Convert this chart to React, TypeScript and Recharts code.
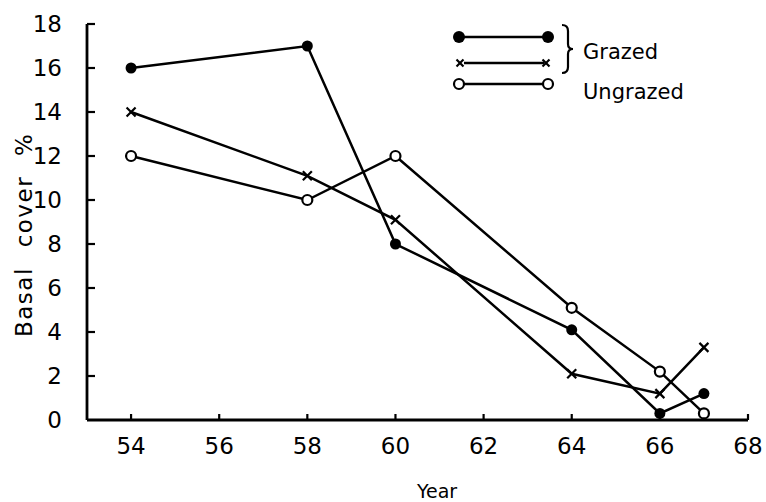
import React from 'react';
import { LineChart, Line, XAxis, YAxis } from 'recharts';

const years = [54, 58, 60, 64, 66, 67];
const grazedSolid = [16, 17, 8, 4.1, 0.3, 1.2];
const grazedCross = [14, 11.1, 9.1, 2.1, 1.2, 3.3];
const ungrazed = [12, 10, 12, 5.1, 2.2, 0.3];

const xTicks = [54, 56, 58, 60, 62, 64, 66, 68];
const yTicks = [0, 2, 4, 6, 8, 10, 12, 14, 16, 18];

const seriesNames = ['Grazed', 'Ungrazed'];

const data = years.map((year, i) => ({
  year,
  solid: grazedSolid[i],
  cross: grazedCross[i],
  open: ungrazed[i],
}));

const FONT = '"DejaVu Sans", sans-serif';
const W = 766;
const H = 502;

// Recharts hands its own r to dots, so sizes are taken from "size" instead
const SolidDot = (props: any) => {
  const { cx, cy, size = 5.5 } = props;
  if (cx == null || cy == null) return null;
  return <circle cx={cx} cy={cy} r={size} fill="#000" />;
};

const OpenDot = (props: any) => {
  const { cx, cy, size = 5 } = props;
  if (cx == null || cy == null) return null;
  return <circle cx={cx} cy={cy} r={size} fill="#fff" stroke="#000" strokeWidth={2.2} />;
};

const CrossDot = (props: any) => {
  const { cx, cy, size = 4.5 } = props;
  if (cx == null || cy == null) return null;
  return (
    <g stroke="#000" strokeWidth={2.2}>
      <line x1={cx - size} y1={cy - size} x2={cx + size} y2={cy + size} />
      <line x1={cx - size} y1={cy + size} x2={cx + size} y2={cy - size} />
    </g>
  );
};

const XTick = (props: any) => {
  const { x, y, payload } = props;
  return (
    <g>
      <line x1={x} y1={y} x2={x} y2={y - 6} stroke="#000" strokeWidth={2.2} />
      <text x={x} y={y + 26} textAnchor="middle" dominantBaseline="central" fontSize={23} fontFamily={FONT} fill="#000">
        {payload.value}
      </text>
    </g>
  );
};

const YTick = (props: any) => {
  const { x, y, payload } = props;
  return (
    <g>
      {payload.value !== 0 && <line x1={x} y1={y} x2={x + 8} y2={y} stroke="#000" strokeWidth={2.2} />}
      <text x={x - 25} y={y} textAnchor="end" dominantBaseline="central" fontSize={23} fontFamily={FONT} fill="#000">
        {payload.value}
      </text>
    </g>
  );
};

const Legend = () => (
  <svg width={W} height={H} style={{ position: 'absolute', top: 0, left: 0, pointerEvents: 'none' }}>
    <line x1={459} y1={37} x2={548} y2={37} stroke="#000" strokeWidth={2.4} />
    <SolidDot cx={459} cy={37} size={6} />
    <SolidDot cx={548} cy={37} size={6} />
    <line x1={464} y1={63} x2={544} y2={63} stroke="#000" strokeWidth={2.4} />
    <CrossDot cx={460} cy={63} size={3.5} />
    <CrossDot cx={546} cy={63} size={3.5} />
    <line x1={459} y1={84} x2={548} y2={84} stroke="#000" strokeWidth={2.4} />
    <OpenDot cx={459} cy={84} size={5} />
    <OpenDot cx={548} cy={84} size={5} />
    <path
      d="M562 25 Q568 25 568 31 L568 44 Q568 49 573 49 Q568 49 568 54 L568 67 Q568 73 562 73"
      fill="none"
      stroke="#000"
      strokeWidth={2.2}
    />
    <text x={583} y={52} dominantBaseline="central" fontSize={21} fontFamily={FONT} fill="#000">
      {seriesNames[0]}
    </text>
    <text x={583} y={92} dominantBaseline="central" fontSize={21} fontFamily={FONT} fill="#000">
      {seriesNames[1]}
    </text>
  </svg>
);

const App: React.FC = () => (
  <div style={{ position: 'relative', width: W, height: H, overflow: 'hidden' }}>
    <style>{'body { margin: 0; }'}</style>
    <LineChart width={W} height={H} data={data} margin={{ top: 24, right: 18, bottom: 22, left: 27 }}>
      <XAxis
        dataKey="year"
        type="number"
        domain={[53, 68]}
        ticks={xTicks}
        height={60}
        tickSize={0}
        tickMargin={0}
        tickLine={false}
        tick={<XTick />}
        axisLine={{ stroke: '#000', strokeWidth: 2.8 }}
        label={{
          content: () => (
            <text x={437} y={498} textAnchor="middle" fontSize={19} fontFamily={FONT} fill="#000">
              Year
            </text>
          ),
        }}
      />
      <YAxis
        type="number"
        domain={[0, 18]}
        ticks={yTicks}
        width={60}
        tickSize={0}
        tickMargin={0}
        tickLine={false}
        tick={<YTick />}
        axisLine={{ stroke: '#000', strokeWidth: 2.8 }}
        label={{
          content: () => (
            <text
              x={32}
              y={337}
              transform="rotate(-90, 32, 337)"
              textAnchor="start"
              fontSize={23}
              fontFamily={FONT}
              fill="#000"
              style={{ wordSpacing: 11, letterSpacing: 1.5 }}
            >
              Basal cover %
            </text>
          ),
        }}
      />
      <Line dataKey="solid" stroke="#000" strokeWidth={2.5} dot={<SolidDot />} isAnimationActive={false} />
      <Line dataKey="cross" stroke="#000" strokeWidth={2.5} dot={<CrossDot />} isAnimationActive={false} />
      <Line dataKey="open" stroke="#000" strokeWidth={2.5} dot={<OpenDot />} isAnimationActive={false} />
    </LineChart>
    <Legend />
  </div>
);

export default App;
